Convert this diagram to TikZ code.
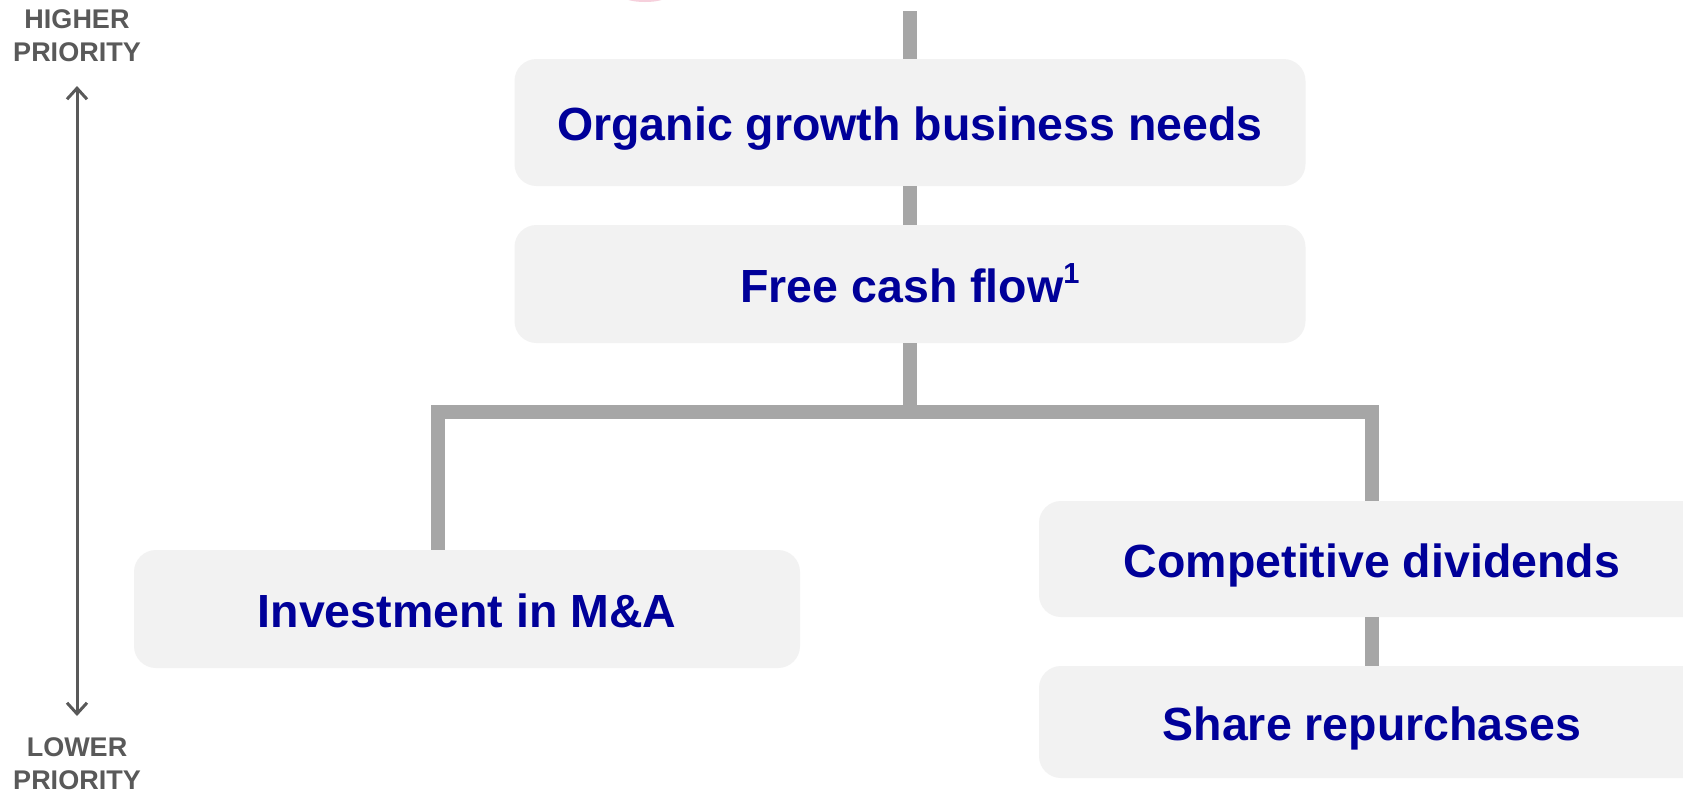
\documentclass[tikz,border=0pt]{standalone}
\usepackage{fontspec}
\setmainfont{Liberation Sans}
\usetikzlibrary{arrows.meta}
\definecolor{boxfill}{HTML}{F2F2F2}
\definecolor{barcol}{HTML}{A6A6A6}
\definecolor{textblue}{HTML}{000099}
\definecolor{labelgray}{HTML}{595959}
\definecolor{pinkring}{HTML}{F6D0DC}
\tikzset{
  stepbox/.style={fill=boxfill, rounded corners=22pt, inner sep=0pt,
    text height=40pt, text depth=4pt,
    text=textblue, font=\fontsize{46.5}{50}\selectfont\bfseries},
  bar/.style={draw=barcol, line width=14pt, line cap=butt, line join=miter},
  prio/.style={text=labelgray, align=center,
    font=\fontsize{27}{33}\selectfont\bfseries},
  prioarrow/.style={draw=labelgray, line width=3pt,
    {Straight Barb[length=11pt,width=20pt]}-{Straight Barb[length=11pt,width=20pt]}}
}
\begin{document}
\begin{tikzpicture}[x=1pt, y=-1pt]
  \useasboundingbox (0,0) rectangle (1683,796);
  \clip (0,0) rectangle (1683,796);
  \fill[white] (0,0) rectangle (1683,796);

  % edge of a ring just above the page
  \draw[pinkring, line width=2pt] (645,-5) ellipse[x radius=22pt, y radius=6pt];

  % boxes
  \node[stepbox, minimum width=791pt, minimum height=127pt] (organic) at (910,122.5) {Organic growth business needs};
  \node[stepbox, minimum width=791pt, minimum height=118pt] (fcf) at (910,284) {Free cash flow\raisebox{0.4em}{\fontsize{29}{30}\selectfont 1}};
  \node[stepbox, minimum width=666pt, minimum height=118pt] (ma) at (467,609) {Investment in M\&A};
  \node[stepbox, minimum width=666pt, minimum height=116pt] (div) at (1372,559) {Competitive dividends};
  \node[stepbox, minimum width=666pt, minimum height=112pt] (buy) at (1372,722) {Share repurchases};

  % connectors
  \coordinate (topend) at (910,11);
  \coordinate (jl) at (438,412);
  \coordinate (jr) at (1372,412);
  \draw[bar] (topend) -- (organic.north);
  \draw[bar] (organic.south) -- (fcf.north);
  \draw[bar] (fcf.south) -- (fcf.south |- jl);
  \draw[bar] (ma.north -| jl) -- (jl) -- (jr) -- (div.north);
  \draw[bar] (div.south) -- (buy.north);

  % priority scale
  \node[prio] (hi) at (77,36) {HIGHER\\PRIORITY};
  \node[prio] (lo) at (77,764) {LOWER\\PRIORITY};
  \coordinate (atop) at (77,86);
  \coordinate (abot) at (77,716);
  \draw[prioarrow] (atop) -- (abot);
\end{tikzpicture}
\end{document}
